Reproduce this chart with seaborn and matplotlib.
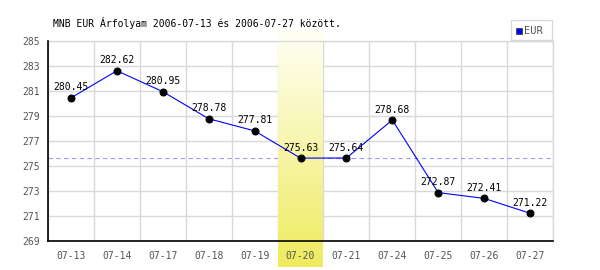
import numpy as np
import pandas as pd
import matplotlib
matplotlib.use("Agg")
import matplotlib.pyplot as plt
from matplotlib.patches import Rectangle
from matplotlib.colors import LinearSegmentedColormap
import seaborn as sns

dates = ["07-13", "07-14", "07-17", "07-18", "07-19", "07-20",
         "07-21", "07-24", "07-25", "07-26", "07-27"]
eur = [280.45, 282.62, 280.95, 278.78, 277.81, 275.63,
       275.64, 278.68, 272.87, 272.41, 271.22]
highlight = "07-20"
title = "MNB EUR Árfolyam 2006-07-13 és 2006-07-27 között."
series_name = "EUR"
yticks = [269, 271, 273, 275, 277, 279, 281, 283, 285]

sns.set_theme(style="white")
plt.rcParams["font.family"] = ["DejaVu Sans Mono", "DejaVu Sans"]

W, H = 600, 270
fig = plt.figure(figsize=(6, 2.7), dpi=100)
ax = fig.add_axes([48/W, 29/H, 505/W, 200/H])
ax.set_facecolor("white")

df = pd.DataFrame({"pos": np.arange(len(dates)), "EUR": eur})
ymin, ymax = yticks[0], yticks[-1]

# manual grid lines (below everything)
grid_c = "#d9d9d9"
for y in yticks:
    ax.axhline(y, color=grid_c, linewidth=1, zorder=0.5)
for x in np.arange(-0.5, len(dates)):
    ax.axvline(x, color=grid_c, linewidth=1, zorder=0.5)

# reference dashed line
hi = dates.index(highlight)
ax.axhline(eur[hi], color="#9a9aff", linestyle=(0, (4, 3)), linewidth=0.8, zorder=0.8)

# highlighted column gradient
cmap = LinearSegmentedColormap.from_list("band", ["#fffff6", "#efeb5e"])
grad = np.linspace(0, 1, 256).reshape(-1, 1)
ax.imshow(grad, cmap=cmap, aspect="auto", origin="upper",
          extent=(hi - 0.5 + 0.02, hi + 0.5, ymin - 2.08, ymax + 0.9),
          clip_on=False, zorder=1)

sns.lineplot(data=df, x="pos", y="EUR", ax=ax, color="#0000ff", linewidth=0.8,
             marker="o", markersize=5, markerfacecolor="black",
             markeredgecolor="black", zorder=3, legend=False)

for i, v in enumerate(eur):
    ax.annotate(f"{v:.2f}", (i, v), xytext=(0, 7.5), textcoords="offset points",
                ha="center", va="center", fontsize=7, color="black", zorder=4)

ax.set_xlim(-0.5, len(dates) - 0.5)
ax.set_ylim(ymin, ymax)
ax.set_yticks(yticks)
ax.set_xticks(np.arange(len(dates)))
ax.set_xticklabels(dates)
ax.grid(False)
ax.set_axisbelow(False)
ax.xaxis.set_zorder(4.5)
ax.yaxis.set_zorder(4.5)
ax.set_xlabel("")
ax.set_ylabel("")
ax.tick_params(axis="both", which="both", length=0, labelsize=7,
               labelcolor="#555555", pad=6)
ax.tick_params(axis="x", pad=7)
for s in ["left", "bottom"]:
    ax.spines[s].set_color("black")
    ax.spines[s].set_linewidth(1.2)
    ax.spines[s].set_zorder(5)
for s in ["top", "right"]:
    ax.spines[s].set_color(grid_c)
    ax.spines[s].set_linewidth(1)

fig.text(53/W, 1 - 23/H, title, fontsize=7, color="black",
         ha="left", va="center")

# legend box
fig.add_artist(Rectangle((511/W, 1 - 40/H), 41/W, 20/H, transform=fig.transFigure,
                         facecolor="white", edgecolor=grid_c, linewidth=1))
fig.add_artist(Rectangle((516/W, 1 - 34/H), 5.5/W, 6/H, transform=fig.transFigure,
                         facecolor="#0000ff", edgecolor="#444444", linewidth=0.6))
fig.text(524/W, 1 - 30.5/H, series_name, fontsize=7.5, color="#555555",
         ha="left", va="center")

fig.savefig("out.png", dpi=100)
